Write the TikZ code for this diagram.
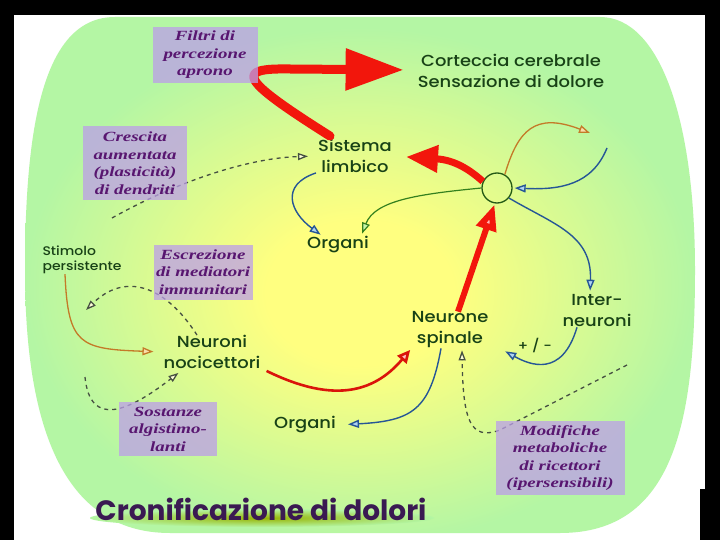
\documentclass[tikz,border=0pt]{standalone}
\usepackage{fontspec}
\setmainfont{Poppins}
\newfontfamily\lblfont{Poppins Medium}[FakeStretch=1.12]
\newfontfamily\notefont{Liberation Serif}[FakeStretch=1.35]
\usetikzlibrary{arrows.meta,positioning}
\definecolor{bggreen}{RGB}{180,246,164}
\definecolor{bgyellow}{RGB}{255,255,128}
\definecolor{notebg}{RGB}{188,158,233}
\definecolor{notetext}{RGB}{88,22,112}
\definecolor{lblgreen}{RGB}{24,66,22}
\definecolor{titlecol}{RGB}{58,26,82}
\definecolor{painred}{RGB}{242,22,12}
\definecolor{nerveblue}{RGB}{38,86,150}
\definecolor{headblue}{RGB}{175,212,242}
\definecolor{nerveorange}{RGB}{196,122,40}
\definecolor{headorange}{RGB}{250,222,170}
\definecolor{nervegreen}{RGB}{52,128,30}
\definecolor{headgreen}{RGB}{200,245,170}
\definecolor{dashgray}{RGB}{70,80,66}
\pgfdeclareradialshading{painglow}{\pgfpoint{0bp}{-2bp}}{color(0bp)=(bgyellow); color(7bp)=(bgyellow); color(25bp)=(bggreen); color(50bp)=(bggreen)}
\begin{document}
\begin{tikzpicture}[x=1pt,y=-1pt,
    lbl/.style={font=\lblfont\fontsize{16}{21}\selectfont, text=lblgreen, align=center, inner sep=0pt},
    note/.style={fill=notebg, fill opacity=0.75, text opacity=1, text=notetext, inner sep=0pt,
      font=\notefont\bfseries\itshape\fontsize{14}{17.5}\selectfont, align=center},
    knot/.style={circle, draw=nervegreen!70!black, line width=1.3pt, minimum size=30pt, inner sep=0pt},
    bluearr/.style={draw=nerveblue, line width=1.4pt, -{Triangle[length=11pt,width=8pt,fill=headblue]}},
    orangearr/.style={draw=nerveorange, line width=1.3pt, -{Triangle[length=11pt,width=8pt,fill=headorange]}},
    greenarr/.style={draw=nervegreen, line width=1.2pt, -{Triangle[length=11pt,width=8pt,fill=headgreen]}},
    hintarr/.style={draw=dashgray, line width=1.3pt, dash pattern=on 4pt off 4pt,
      -{Triangle[length=10pt,width=7pt,fill=white!70!bgyellow]}},
    redthin/.style={draw=painred!90!black, line width=2.6pt, -{Triangle[length=13pt,width=12pt,fill=red!25]}},
    redbig/.style={draw=painred, line width=9pt, line cap=round, line join=round, -{Triangle[length=58pt,width=40pt]}},
    redmid/.style={draw=painred, line width=7pt, -{Triangle[length=32pt,width=26pt]}},
    redup/.style={draw=painred, line width=6pt, -{Triangle[length=26pt,width=20pt,fill=red!30]}}]
\fill[black] (0,0) rectangle (720,540);
\fill[white] (14,15) rectangle (705,489);
\fill[white] (14,489) rectangle (700,540);
\shade[shading=painglow] (115,17) -- (600,17) .. controls (660,17) and (695,120) .. (695,270)
  .. controls (695,420) and (675,533) .. (560,533) -- (170,533) .. controls (60,533) and (25,420) .. (25,270)
  .. controls (25,120) and (45,17) .. (115,17) -- cycle;
\shade[inner color=olive!55!bggreen, outer color=bggreen] (262,518) ellipse [x radius=172, y radius=9];

\node[lbl] (cort) at (511,71) {Corteccia cerebrale\\Sensazione di dolore};
\node[lbl] (limb) at (355,156) {Sistema\\limbico};
\node[lbl] (org1) at (338,245) {Organi};
\node[knot] (hub) at (497,188) {};
\node[lbl] (inter) at (597,311) {Inter-\\neuroni};
\node[lbl] (spin) at (450,330) {Neurone\\spinale};
\node[lbl] (org2) at (305,425) {Organi};
\node[lbl] (noc) at (212,352) {Neuroni\\nocicettori};
\node[lbl, font=\lblfont\fontsize{12.5}{15}\selectfont, align=left] (stim) at (82,260) {Stimolo\\persistente};
\coordinate (crescfrom) at (112,218);
\coordinate (escrto) at (86,310);
\coordinate (sostfrom) at (85,377);
\coordinate (modiffrom) at (627,365);
\coordinate (hubout) at (590,133);
\coordinate (hubin) at (607,148);

\draw[redbig, shorten >=14pt] ([xshift=-25pt,yshift=3pt]limb.north) .. controls (238,78) and (235,68) .. (290,69) -- (cort.west |- 0,70);
\draw[redmid, shorten >=14pt] (hub.155) .. controls (470,170) and (455,160) .. (limb.east);
\draw[redup, shorten >=1pt] ([xshift=8pt]spin.north) -- (hub.262);
\draw[redthin, shorten >=2pt] ([xshift=6pt,yshift=-2pt]noc.south east) .. controls (330,402) and (372,395) .. (spin.south west);
\draw[orangearr, shorten >=10pt] ([xshift=-17pt]stim.south) .. controls (68,345) and (80,349) .. (noc.west);
\draw[orangearr] (hub.60) .. controls (518,130) and (535,112) .. (hubout);
\draw[bluearr] (hubin) .. controls (592,185) and (560,190) .. ([xshift=2pt]hub.east);
\draw[bluearr, shorten >=3pt] ([xshift=-2pt]limb.south west) .. controls (280,185) and (290,212) .. ([xshift=-15pt]org1.north);
\draw[greenarr, shorten >=3pt] (hub.west) .. controls (420,194) and (375,200) .. ([xshift=-8pt]org1.north east);
\draw[bluearr, shorten >=4pt] (hub.-40) .. controls (555,225) and (592,235) .. ([xshift=-7pt]inter.north);
\draw[bluearr, shorten >=2pt] ([xshift=-20pt]inter.south) .. controls (562,378) and (530,365) .. ([xshift=15pt,yshift=-2pt]spin.south east)
  node[pos=0.62, above=6pt, font=\lblfont\fontsize{13}{15}\selectfont, text=lblgreen] (sign) {+ / -};
\draw[bluearr, shorten >=12pt] ([xshift=-9pt]spin.south) .. controls (430,410) and (412,421) .. (org2.east);
\draw[hintarr, shorten >=10pt] (crescfrom) .. controls (180,180) and (250,158) .. (limb.west);
\draw[hintarr] ([xshift=-15pt]noc.north) .. controls (165,285) and (125,272) .. (escrto);
\draw[hintarr] (sostfrom) .. controls (90,428) and (128,412) .. ([xshift=15pt,yshift=-4pt]noc.south west);
\draw[hintarr] (modiffrom) -- (500,430) .. controls (470,441) and (463,420) .. ([xshift=12pt,yshift=-2pt]spin.south);

\node[note, minimum width=105pt, minimum height=56pt] (filtri) at (205,55) {Filtri di\\percezione\\aprono};
\node[note, minimum width=104pt, minimum height=74pt] (cresc) at (135,163) {Crescita\\aumentata\\(plasticità)\\di dendriti};
\node[note, minimum width=99pt, minimum height=55pt] (escr) at (203,272) {Escrezione\\di mediatori\\immunitari};
\node[note, minimum width=98pt, minimum height=54pt] (sost) at (168,429) {Sostanze\\algistimo-\\lanti};
\node[note, minimum width=129pt, minimum height=74pt] (modif) at (560,458) {Modifiche\\metaboliche\\di ricettori\\(ipersensibili)};
\node[font=\bfseries\fontsize{28}{32}\selectfont, text=titlecol, inner sep=0pt] (title) at (261,509) {Cronificazione di dolori};
\end{tikzpicture}
\end{document}
